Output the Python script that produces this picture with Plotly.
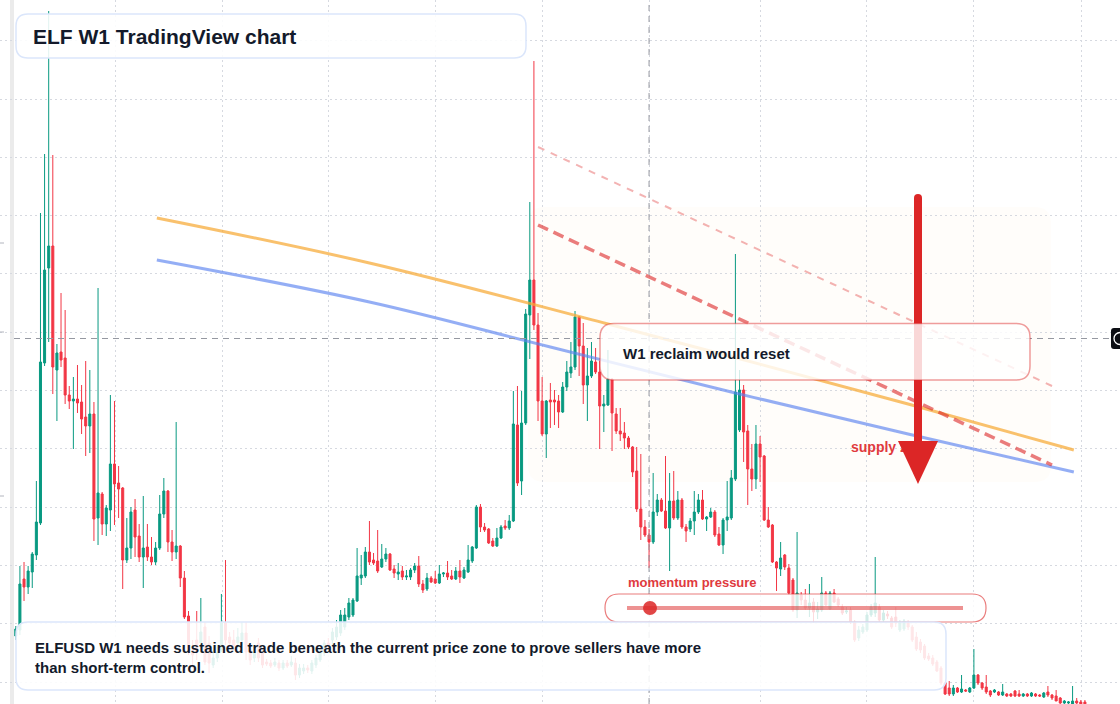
import plotly.graph_objects as go

W, H = 1120, 704
X0, DX = 15.8, 4.112  # layout: pixel of candle 0 and candle spacing

# ---------------- data (ELFUSD weekly) ----------------
open_ = [
0.068, 0.074, 0.125, 0.117, 0.132, 0.149, 0.181, 0.341, 0.436, 0.458,
0.334, 0.352, 0.346, 0.309, 0.303, 0.305, 0.302, 0.287, 0.278, 0.290,
0.186, 0.210, 0.180, 0.194, 0.240, 0.221, 0.216, 0.144, 0.156, 0.194,
0.168, 0.147, 0.157, 0.147, 0.142, 0.156, 0.190, 0.213, 0.162, 0.152,
0.158, 0.126, 0.088, 0.054, 0.064, 0.061, 0.077, 0.061, 0.039, 0.046,
0.054, 0.081, 0.067, 0.064, 0.061, 0.064, 0.071, 0.054, 0.046, 0.061,
0.052, 0.042, 0.041, 0.039, 0.041, 0.036, 0.041, 0.039, 0.041, 0.029,
0.033, 0.036, 0.033, 0.039, 0.044, 0.051, 0.061, 0.064, 0.067, 0.071,
0.077, 0.087, 0.089, 0.103, 0.126, 0.128, 0.152, 0.144, 0.143, 0.137,
0.145, 0.150, 0.135, 0.130, 0.133, 0.127, 0.127, 0.134, 0.138, 0.120,
0.115, 0.126, 0.125, 0.121, 0.130, 0.131, 0.128, 0.125, 0.133, 0.126,
0.132, 0.143, 0.156, 0.197, 0.177, 0.175, 0.163, 0.158, 0.166, 0.178,
0.176, 0.183, 0.279, 0.223, 0.281, 0.389, 0.424, 0.379, 0.303, 0.270,
0.304, 0.304, 0.303, 0.292, 0.317, 0.331, 0.337, 0.387, 0.358, 0.319,
0.328, 0.342, 0.332, 0.298, 0.299, 0.325, 0.290, 0.273, 0.271, 0.266,
0.257, 0.233, 0.195, 0.177, 0.169, 0.162, 0.192, 0.204, 0.193, 0.176,
0.203, 0.186, 0.204, 0.177, 0.175, 0.183, 0.192, 0.204, 0.185, 0.187,
0.192, 0.170, 0.159, 0.184, 0.186, 0.225, 0.274, 0.314, 0.273, 0.235,
0.225, 0.260, 0.248, 0.184, 0.179, 0.142, 0.135, 0.149, 0.136, 0.124,
0.094, 0.109, 0.104, 0.096, 0.102, 0.092, 0.094, 0.111, 0.095, 0.111,
0.105, 0.097, 0.092, 0.094, 0.082, 0.066, 0.072, 0.074, 0.089, 0.091,
0.097, 0.084, 0.090, 0.086, 0.087, 0.074, 0.075, 0.081, 0.077, 0.067,
0.062, 0.058, 0.048, 0.046, 0.042, 0.036, 0.021, 0.016, 0.010, 0.016,
0.012, 0.014, 0.012, 0.016, 0.029, 0.021, 0.017, 0.013, 0.012, 0.012,
0.009, 0.010, 0.010, 0.013, 0.010, 0.008, 0.010, 0.008, 0.010, 0.009,
0.007, 0.012, 0.009, 0.008, 0.006, 0.001, 0.001, 0.000, 0.003, 0.002,
0.002]

high = [
0.078, 0.138, 0.142, 0.138, 0.152, 0.223, 0.491, 0.550, 0.693, 0.549,
0.360, 0.411, 0.394, 0.318, 0.327, 0.339, 0.319, 0.343, 0.334, 0.302,
0.416, 0.212, 0.199, 0.309, 0.303, 0.238, 0.217, 0.186, 0.197, 0.205,
0.180, 0.208, 0.180, 0.167, 0.162, 0.209, 0.226, 0.214, 0.174, 0.282,
0.159, 0.133, 0.093, 0.064, 0.093, 0.106, 0.082, 0.068, 0.054, 0.059,
0.110, 0.144, 0.072, 0.074, 0.076, 0.082, 0.082, 0.059, 0.056, 0.066,
0.056, 0.045, 0.044, 0.046, 0.044, 0.044, 0.044, 0.048, 0.046, 0.040,
0.040, 0.039, 0.044, 0.049, 0.056, 0.064, 0.066, 0.076, 0.084, 0.094,
0.096, 0.106, 0.106, 0.156, 0.149, 0.157, 0.183, 0.151, 0.174, 0.160,
0.156, 0.151, 0.139, 0.141, 0.138, 0.134, 0.136, 0.141, 0.148, 0.124,
0.131, 0.128, 0.133, 0.139, 0.132, 0.143, 0.134, 0.137, 0.144, 0.137,
0.159, 0.158, 0.199, 0.200, 0.181, 0.176, 0.166, 0.176, 0.179, 0.184,
0.189, 0.313, 0.318, 0.313, 0.395, 0.502, 0.643, 0.391, 0.327, 0.304,
0.321, 0.314, 0.309, 0.322, 0.343, 0.362, 0.393, 0.388, 0.381, 0.356,
0.362, 0.356, 0.343, 0.309, 0.354, 0.326, 0.296, 0.296, 0.282, 0.268,
0.258, 0.257, 0.250, 0.184, 0.175, 0.231, 0.210, 0.206, 0.248, 0.231,
0.233, 0.213, 0.206, 0.180, 0.186, 0.213, 0.210, 0.214, 0.188, 0.196,
0.194, 0.177, 0.186, 0.223, 0.234, 0.450, 0.334, 0.319, 0.279, 0.260,
0.279, 0.268, 0.249, 0.197, 0.180, 0.143, 0.162, 0.150, 0.140, 0.126,
0.172, 0.112, 0.115, 0.120, 0.106, 0.102, 0.127, 0.113, 0.113, 0.115,
0.107, 0.100, 0.097, 0.097, 0.084, 0.078, 0.080, 0.092, 0.100, 0.147,
0.100, 0.094, 0.093, 0.088, 0.097, 0.084, 0.085, 0.084, 0.079, 0.072,
0.065, 0.060, 0.051, 0.049, 0.044, 0.038, 0.022, 0.023, 0.019, 0.017,
0.029, 0.015, 0.017, 0.055, 0.030, 0.022, 0.029, 0.014, 0.015, 0.013,
0.020, 0.011, 0.011, 0.014, 0.014, 0.011, 0.011, 0.012, 0.011, 0.010,
0.012, 0.018, 0.010, 0.014, 0.007, 0.004, 0.003, 0.018, 0.006, 0.004,
0.004]

low = [
0.064, 0.069, 0.103, 0.110, 0.116, 0.144, 0.179, 0.338, 0.362, 0.310,
0.283, 0.337, 0.300, 0.295, 0.255, 0.291, 0.270, 0.248, 0.251, 0.163,
0.159, 0.169, 0.168, 0.173, 0.179, 0.186, 0.115, 0.141, 0.145, 0.147,
0.142, 0.116, 0.143, 0.139, 0.139, 0.154, 0.186, 0.152, 0.143, 0.145,
0.117, 0.085, 0.049, 0.036, 0.044, 0.054, 0.039, 0.031, 0.036, 0.042,
0.052, 0.059, 0.056, 0.054, 0.056, 0.059, 0.044, 0.039, 0.042, 0.042,
0.036, 0.038, 0.036, 0.037, 0.033, 0.034, 0.036, 0.037, 0.024, 0.026,
0.030, 0.031, 0.030, 0.036, 0.042, 0.048, 0.054, 0.059, 0.064, 0.068,
0.074, 0.084, 0.087, 0.102, 0.119, 0.126, 0.139, 0.139, 0.131, 0.136,
0.142, 0.133, 0.126, 0.124, 0.124, 0.124, 0.124, 0.131, 0.117, 0.111,
0.113, 0.121, 0.120, 0.120, 0.127, 0.124, 0.124, 0.124, 0.121, 0.125,
0.131, 0.141, 0.155, 0.172, 0.172, 0.160, 0.157, 0.157, 0.165, 0.174,
0.174, 0.182, 0.218, 0.209, 0.279, 0.345, 0.374, 0.283, 0.268, 0.246,
0.276, 0.279, 0.276, 0.291, 0.313, 0.326, 0.334, 0.328, 0.300, 0.283,
0.326, 0.330, 0.255, 0.272, 0.298, 0.253, 0.270, 0.263, 0.255, 0.255,
0.227, 0.192, 0.164, 0.167, 0.136, 0.160, 0.188, 0.192, 0.175, 0.133,
0.184, 0.184, 0.175, 0.162, 0.172, 0.169, 0.190, 0.184, 0.173, 0.186,
0.167, 0.158, 0.150, 0.173, 0.184, 0.223, 0.272, 0.242, 0.199, 0.213,
0.215, 0.222, 0.183, 0.176, 0.141, 0.113, 0.128, 0.134, 0.109, 0.092,
0.086, 0.099, 0.094, 0.087, 0.081, 0.085, 0.092, 0.098, 0.094, 0.101,
0.097, 0.089, 0.090, 0.080, 0.062, 0.063, 0.070, 0.072, 0.087, 0.087,
0.082, 0.082, 0.085, 0.075, 0.077, 0.072, 0.073, 0.074, 0.062, 0.053,
0.051, 0.044, 0.043, 0.038, 0.032, 0.019, 0.009, 0.008, 0.008, 0.011,
0.011, 0.012, 0.011, 0.015, 0.019, 0.014, 0.010, 0.007, 0.011, 0.008,
0.008, 0.007, 0.007, 0.007, 0.007, 0.007, 0.007, 0.007, 0.007, 0.007,
0.006, 0.007, 0.004, 0.003, 0.000, 0.000, 0.000, 0.000, 0.000, 0.000,
0.000]

close = [
0.075, 0.120, 0.117, 0.133, 0.150, 0.182, 0.342, 0.434, 0.458, 0.337,
0.351, 0.344, 0.309, 0.303, 0.305, 0.301, 0.285, 0.278, 0.290, 0.185,
0.211, 0.180, 0.196, 0.240, 0.220, 0.215, 0.144, 0.156, 0.192, 0.167,
0.147, 0.156, 0.147, 0.142, 0.156, 0.190, 0.213, 0.162, 0.152, 0.158,
0.126, 0.087, 0.054, 0.049, 0.052, 0.072, 0.042, 0.041, 0.046, 0.052,
0.081, 0.064, 0.061, 0.058, 0.067, 0.071, 0.052, 0.044, 0.052, 0.046,
0.039, 0.040, 0.038, 0.042, 0.036, 0.041, 0.038, 0.042, 0.029, 0.036,
0.036, 0.034, 0.041, 0.046, 0.052, 0.061, 0.058, 0.072, 0.077, 0.089,
0.089, 0.101, 0.104, 0.128, 0.129, 0.152, 0.142, 0.141, 0.133, 0.145,
0.150, 0.134, 0.131, 0.132, 0.127, 0.128, 0.134, 0.138, 0.120, 0.114,
0.126, 0.122, 0.121, 0.130, 0.131, 0.127, 0.125, 0.133, 0.127, 0.134,
0.144, 0.157, 0.197, 0.177, 0.174, 0.161, 0.158, 0.166, 0.177, 0.176,
0.183, 0.280, 0.221, 0.281, 0.390, 0.424, 0.379, 0.303, 0.270, 0.303,
0.302, 0.302, 0.292, 0.317, 0.332, 0.337, 0.387, 0.358, 0.319, 0.328,
0.343, 0.332, 0.298, 0.300, 0.325, 0.291, 0.273, 0.270, 0.266, 0.257,
0.232, 0.195, 0.177, 0.169, 0.162, 0.192, 0.204, 0.193, 0.176, 0.203,
0.186, 0.204, 0.177, 0.173, 0.183, 0.192, 0.204, 0.185, 0.187, 0.192,
0.169, 0.159, 0.184, 0.187, 0.226, 0.312, 0.314, 0.272, 0.235, 0.225,
0.260, 0.247, 0.184, 0.177, 0.142, 0.136, 0.146, 0.137, 0.111, 0.094,
0.111, 0.104, 0.096, 0.101, 0.092, 0.095, 0.111, 0.099, 0.111, 0.102,
0.099, 0.091, 0.093, 0.082, 0.064, 0.074, 0.077, 0.089, 0.097, 0.101,
0.084, 0.091, 0.088, 0.077, 0.081, 0.082, 0.083, 0.077, 0.064, 0.055,
0.054, 0.046, 0.045, 0.040, 0.033, 0.021, 0.010, 0.010, 0.016, 0.012,
0.015, 0.013, 0.016, 0.029, 0.021, 0.016, 0.012, 0.009, 0.014, 0.009,
0.012, 0.008, 0.008, 0.008, 0.008, 0.010, 0.008, 0.011, 0.008, 0.008,
0.011, 0.009, 0.006, 0.003, 0.001, 0.003, 0.002, 0.003, 0.001, 0.000,
0.000]

week = list(range(len(open_)))

# moving averages (orange = fast, blue = slow)
fast_x = [34.3, 86, 144, 217, 257.3]
fast_y = [0.486, 0.441, 0.380, 0.300, 0.254]
slow_x = [34.3, 86, 130, 174, 217, 257.3]
slow_y = [0.444, 0.402, 0.357, 0.312, 0.270, 0.232]

# descending trend lines
upper_tl_x = [127, 252]
upper_tl_y = [0.557, 0.318]
lower_tl_x = [127, 252]
lower_tl_y = [0.479, 0.239]

crosshair_week = 154
crosshair_price = 0.3655

grid_weeks = [24.22, 50.27, 76.07, 102.1, 128.2, 154.0, 181.15, 207.0, 233.0, 259.1]

GREEN, RED = "#089981", "#f23645"
FONT = "Liberation Sans, Arial, Helvetica, sans-serif"
DARK = "#131a2b"
ALERT = "#dc2626"

# ---------------- helpers (layout positions) ----------------
def fx(px):
    return px / W

def fy(py):
    return 1 - py / H

def P(x, y):
    return f"{fx(x):.5f},{fy(y):.5f}"

def rpath(x0, y0, x1, y1, r):
    return (f"M {P(x0 + r, y0)} L {P(x1 - r, y0)} Q {P(x1, y0)} {P(x1, y0 + r)} "
            f"L {P(x1, y1 - r)} Q {P(x1, y1)} {P(x1 - r, y1)} L {P(x0 + r, y1)} "
            f"Q {P(x0, y1)} {P(x0, y1 - r)} L {P(x0, y0 + r)} Q {P(x0, y0)} {P(x0 + r, y0)} Z")

def xi(px):
    return (px - X0) / DX

# ---------------- traces ----------------
fig = go.Figure()
fig.add_trace(go.Candlestick(
    x=week, open=open_, high=high, low=low, close=close,
    increasing=dict(line=dict(color=GREEN, width=1), fillcolor=GREEN),
    decreasing=dict(line=dict(color=RED, width=1), fillcolor=RED),
    whiskerwidth=0, hoverinfo="skip", showlegend=False))

fig.add_trace(go.Scatter(x=fast_x, y=fast_y, mode="lines", line=dict(color="rgba(247,169,52,0.72)", width=3, shape="spline", smoothing=1.0), hoverinfo="skip"))
fig.add_trace(go.Scatter(x=slow_x, y=slow_y, mode="lines", line=dict(color="rgba(90,130,240,0.65)", width=3, shape="spline", smoothing=1.0), hoverinfo="skip"))
fig.add_trace(go.Scatter(x=upper_tl_x, y=upper_tl_y, mode="lines", line=dict(color="rgba(220,38,38,0.35)", width=2, dash="7px,7px"), hoverinfo="skip"))
fig.add_trace(go.Scatter(x=lower_tl_x, y=lower_tl_y, mode="lines", line=dict(color="rgba(220,38,38,0.6)", width=3.5, dash="11px,6px"), hoverinfo="skip"))
fig.add_trace(go.Scatter(x=[xi(851)], y=[(H - 448) / 1000.0], mode="text", text=["<b>supply zone</b>"],
                         textposition="middle right", textfont=dict(family=FONT, size=14, color="#e03a3e"), hoverinfo="skip"))

# ---------------- shapes ----------------
shapes = []
shapes.append(dict(type="path", xref="paper", yref="paper", path=rpath(528, 207, 1051, 482, 16),
                   fillcolor="rgba(245,158,11,0.018)", line=dict(width=0), layer="below"))
shapes.append(dict(type="rect", xref="paper", yref="paper", x0=0, x1=fx(10), y0=0, y1=1,
                   fillcolor="white", line=dict(width=0), layer="between"))
shapes.append(dict(type="rect", xref="paper", yref="paper", x0=fx(10), x1=fx(14), y0=0, y1=1,
                   fillcolor="#ebebeb", line=dict(width=0), layer="between"))
for ty in [243, 332, 496]:
    shapes.append(dict(type="line", xref="paper", yref="paper", x0=0, x1=fx(4), y0=fy(ty), y1=fy(ty),
                       line=dict(color="#b2b5be", width=1), layer="above"))
# crosshair
shapes.append(dict(type="line", xref="x", yref="paper", x0=crosshair_week, x1=crosshair_week, y0=0, y1=1,
                   line=dict(color="#9598a1", width=1, dash="6px,5px"), layer="above"))
shapes.append(dict(type="line", xref="paper", yref="y", x0=fx(14), x1=fx(1111), y0=crosshair_price, y1=crosshair_price,
                   line=dict(color="#9598a1", width=1, dash="6px,5px"), layer="above"))
# price label at right edge
shapes.append(dict(type="path", xref="paper", yref="paper",
                   path=f"M {P(1114, 328)} L {P(1122, 328)} L {P(1122, 349)} L {P(1114, 349)} Q {P(1111, 349)} {P(1111, 346)} L {P(1111, 331)} Q {P(1111, 328)} {P(1114, 328)} Z",
                   fillcolor="#0c0e14", line=dict(width=0), layer="above"))
shapes.append(dict(type="circle", xref="paper", yref="paper", x0=fx(1114), x1=fx(1126), y0=fy(332.5), y1=fy(344.5),
                   line=dict(color="white", width=1.3), fillcolor="rgba(0,0,0,0)", layer="above"))
# red arrow
shapes.append(dict(type="line", xref="paper", yref="paper", x0=fx(918), x1=fx(918), y0=fy(198), y1=fy(444),
                   line=dict(color=ALERT, width=8), layer="above"))
shapes.append(dict(type="circle", xref="paper", yref="paper", x0=fx(914), x1=fx(922), y0=fy(194), y1=fy(202),
                   fillcolor=ALERT, line=dict(width=0), layer="above"))
shapes.append(dict(type="path", xref="paper", yref="paper",
                   path=f"M {P(898, 441)} L {P(938, 441)} L {P(918, 484)} Z",
                   fillcolor=ALERT, line=dict(width=0), layer="above"))
# reclaim box
shapes.append(dict(type="path", xref="paper", yref="paper", path=rpath(600, 323.5, 1030, 380, 14),
                   fillcolor="rgba(255,255,255,0.82)", line=dict(color="rgba(220,38,38,0.45)", width=1.5), layer="above"))
# momentum pill
shapes.append(dict(type="path", xref="paper", yref="paper", path=rpath(605, 594, 986, 622, 14),
                   fillcolor="rgba(255,255,255,0.82)", line=dict(color="rgba(220,38,38,0.6)", width=1.2), layer="above"))
shapes.append(dict(type="line", xref="paper", yref="paper", x0=fx(627), x1=fx(963), y0=fy(608), y1=fy(608),
                   line=dict(color="rgba(220,38,38,0.5)", width=4), layer="above"))
shapes.append(dict(type="circle", xref="paper", yref="paper", x0=fx(643), x1=fx(657), y0=fy(601), y1=fy(615),
                   fillcolor="rgba(220,38,38,0.85)", line=dict(width=0), layer="above"))
# title box and note box
shapes.append(dict(type="path", xref="paper", yref="paper", path=rpath(16, 14, 526, 58, 12),
                   fillcolor="rgba(255,255,255,0.88)", line=dict(color="#dbe6fb", width=1.5), layer="above"))
shapes.append(dict(type="path", xref="paper", yref="paper", path=rpath(16, 622, 946, 690, 12),
                   fillcolor="rgba(255,255,255,0.88)", line=dict(color="#dbe6fb", width=1.5), layer="above"))

# ---------------- annotations ----------------
annotations = [
    dict(x=fx(31), y=fy(36), xref="paper", yref="paper", xanchor="left", yanchor="middle", showarrow=False,
         text="<b>ELF W1 TradingView chart</b>", font=dict(family=FONT, size=21, color=DARK)),
    dict(x=fx(33), y=fy(657), xref="paper", yref="paper", xanchor="left", yanchor="middle", showarrow=False, align="left",
         text="<b>ELFUSD W1 needs sustained trade beneath the current price zone to prove sellers have more<br>than short-term control.</b>",
         font=dict(family=FONT, size=15, color=DARK)),
    dict(x=fx(621), y=fy(353), xref="paper", yref="paper", xanchor="left", yanchor="middle", showarrow=False,
         text="<b>W1 reclaim would reset</b>", font=dict(family=FONT, size=15, color=DARK)),
    dict(x=fx(626), y=fy(582), xref="paper", yref="paper", xanchor="left", yanchor="middle", showarrow=False,
         text="<b>momentum pressure</b>", font=dict(family=FONT, size=13, color="#e03a3e")),
]

fig.update_layout(
    width=W, height=H, margin=dict(l=0, r=0, t=0, b=0),
    paper_bgcolor="white", plot_bgcolor="white", showlegend=False, hovermode=False,
    shapes=shapes, annotations=annotations,
    xaxis=dict(range=[xi(0), xi(W)], tickvals=grid_weeks, showticklabels=False, ticks="",
               showgrid=True, gridcolor="#d6d9e0", griddash="2px,3px", gridwidth=1,
               zeroline=False, showline=False, rangeslider=dict(visible=False), fixedrange=True),
    yaxis=dict(range=[0, H / 1000.0], tick0=0.022, dtick=0.0583, showticklabels=False, ticks="",
               showgrid=True, gridcolor="#d6d9e0", griddash="2px,3px", gridwidth=1,
               zeroline=False, showline=False, fixedrange=True),
)

fig.write_html("out.html")
